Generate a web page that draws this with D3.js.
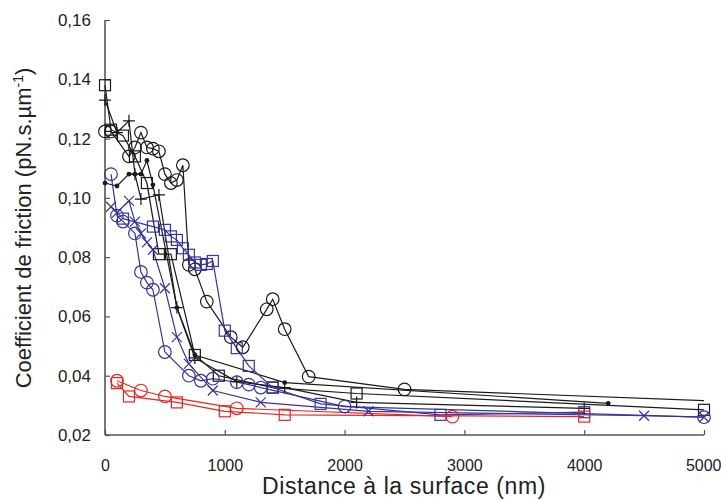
<!DOCTYPE html>
<html><head><meta charset="utf-8">
<script src="https://cdn.jsdelivr.net/npm/d3@7"></script>
<style>body{margin:0;background:#fff}</style>
</head><body>
<svg id="c" width="721" height="500"></svg>
<script>
const xTicks = [0,1000,2000,3000,4000,5000];
const yTicks = [0.02,0.04,0.06,0.08,0.10,0.12,0.14,0.16];

const blackSquare = [[0,0.138],[50,0.123],[150,0.121],[250,0.114],[350,0.105],[450,0.081],[550,0.081],[750,0.047],[950,0.040],[1400,0.036],[2100,0.034],[5000,0.0285]];
const blackPlus = [[0,0.133],[100,0.122],[200,0.126],[250,0.108],[300,0.0996],[450,0.101],[600,0.063],[750,0.046],[1100,0.038],[1500,0.036],[2100,0.031],[4000,0.029]];
const blackDot = [[0,0.105],[100,0.104],[200,0.108],[250,0.108],[300,0.108],[350,0.1126],[400,0.1044],[600,0.063],[750,0.047],[1500,0.0377],[4200,0.0307]];
const blackCircle = [[0,0.1224],[50,0.1224],[200,0.114],[250,0.117],[300,0.122],[350,0.117],[400,0.1166],[450,0.1157],[500,0.108],[550,0.105],[600,0.106],[650,0.111],[700,0.0774],[750,0.0759],[850,0.065],[1050,0.053],[1150,0.0496],[1350,0.0624],[1400,0.0658],[1500,0.0557],[1700,0.0397],[2500,0.0354],[5000,0.0316]];
const blueCircle = [[50,0.108],[100,0.094],[150,0.092],[250,0.088],[300,0.075],[350,0.0714],[400,0.069],[500,0.048],[700,0.040],[800,0.0383],[900,0.039],[1100,0.0378],[1200,0.037],[1300,0.036],[2000,0.0296],[5000,0.026]];
const blueX = [[50,0.097],[100,0.095],[200,0.099],[250,0.092],[300,0.088],[350,0.085],[400,0.0825],[500,0.0695],[600,0.053],[700,0.044],[900,0.035],[1300,0.031],[2200,0.028],[4500,0.0265],[5000,0.026]];
const blueSquare = [[150,0.093],[400,0.0903],[500,0.0892],[550,0.087],[600,0.0858],[650,0.083],[700,0.0808],[750,0.0782],[800,0.0774],[850,0.0777],[900,0.0787],[1000,0.0552],[1100,0.0493],[1200,0.0433],[1400,0.036],[1800,0.0305],[2800,0.0268],[4000,0.0277]];
const redSquare = [[100,0.0375],[200,0.033],[600,0.031],[1000,0.028],[1500,0.0268],[4000,0.0262]];
const redCircle = [[100,0.0383],[300,0.035],[500,0.033],[1100,0.029],[2900,0.0262]];

const BLACK="#1a1a1a", BLUE="#35359e", RED="#e8261e";
const series = [
  {data:blackCircle, color:BLACK, m:"circle", hideLast:true},
  {data:blackSquare, color:BLACK, m:"square"},
  {data:blackPlus, color:BLACK, m:"plus"},
  {data:blackDot, color:BLACK, m:"dot"},
  {data:blueSquare, color:BLUE, m:"square"},
  {data:blueX, color:BLUE, m:"x"},
  {data:blueCircle, color:BLUE, m:"circle"},
  {data:redSquare, color:RED, m:"square"},
  {data:redCircle, color:RED, m:"circle"}
];

const FONT="Liberation Sans, Arial, Helvetica, sans-serif";
const svg = d3.select("#c");
const x = d3.scaleLinear().domain([0,5000]).range([105,704]);
const y = d3.scaleLinear().domain([0.02,0.16]).range([435,20]);

const fmt = d => d3.format(".2f")(d).replace(".", ",");
const AX="#555";
const gx = svg.append("g").attr("transform","translate(0,435)")
  .call(d3.axisBottom(x).tickValues(xTicks).tickSizeInner(-5).tickSizeOuter(0).tickPadding(25).tickFormat(d3.format("d")));
const gy = svg.append("g").attr("transform","translate(105,0)")
  .call(d3.axisLeft(y).tickValues(yTicks).tickSizeInner(-5).tickSizeOuter(0).tickPadding(14).tickFormat(fmt));
[gx,gy].forEach(g=>{
  g.select(".domain").attr("stroke",AX).attr("stroke-width",1.6);
  g.selectAll(".tick line").attr("stroke",AX).attr("stroke-width",1.2);
  g.selectAll("text").attr("fill","#222").style("font-family",FONT).style("font-size","17px");
});
gx.selectAll("text").style("font-size","16px");
gx.selectAll(".tick").filter(d=>d===5000).select("text").attr("text-anchor","end").attr("x",17);
gy.select(".domain").attr("d","M0,435V20");
gx.select(".domain").attr("d","M105,0H704");

const line = d3.line().x(d=>x(d[0])).y(d=>y(d[1]));
series.forEach(s=>{
  svg.append("path").attr("d",line(s.data)).attr("fill","none").attr("stroke",s.color).attr("stroke-width",1.2);
});
series.forEach(s=>{
  const g = svg.append("g").attr("stroke",s.color).attr("fill","none").attr("stroke-width",1.2);
  const pts = s.hideLast ? s.data.slice(0,-1) : s.data;
  pts.forEach(d=>{
    const cx=x(d[0]), cy=y(d[1]);
    if(s.m==="circle") g.append("circle").attr("cx",cx).attr("cy",cy).attr("r",6.3);
    else if(s.m==="square") g.append("rect").attr("x",cx-5.5).attr("y",cy-5.5).attr("width",11).attr("height",11);
    else if(s.m==="plus") g.append("path").attr("d",`M${cx-6},${cy}H${cx+6}M${cx},${cy-6}V${cy+6}`);
    else if(s.m==="x") g.append("path").attr("d",`M${cx-5},${cy-5}L${cx+5},${cy+5}M${cx-5},${cy+5}L${cx+5},${cy-5}`);
    else if(s.m==="dot") g.append("circle").attr("cx",cx).attr("cy",cy).attr("r",2.4).attr("fill",s.color).attr("stroke","none");
  });
});

svg.append("text").attr("x",404).attr("y",494).attr("text-anchor","middle")
  .style("font-family",FONT).style("font-size","23px").style("letter-spacing","0.6px").attr("fill","#222")
  .text("Distance à la surface (nm)");
const yl = svg.append("text").attr("transform","translate(31,228) rotate(-90)").attr("text-anchor","middle")
  .style("font-family",FONT).style("font-size","22px").attr("fill","#222");
yl.append("tspan").text("Coefficient de friction (pN.s.µm");
yl.append("tspan").attr("dy",-8).style("font-size","14px").text("-1");
yl.append("tspan").attr("dy",8).text(")");
</script>
</body></html>
